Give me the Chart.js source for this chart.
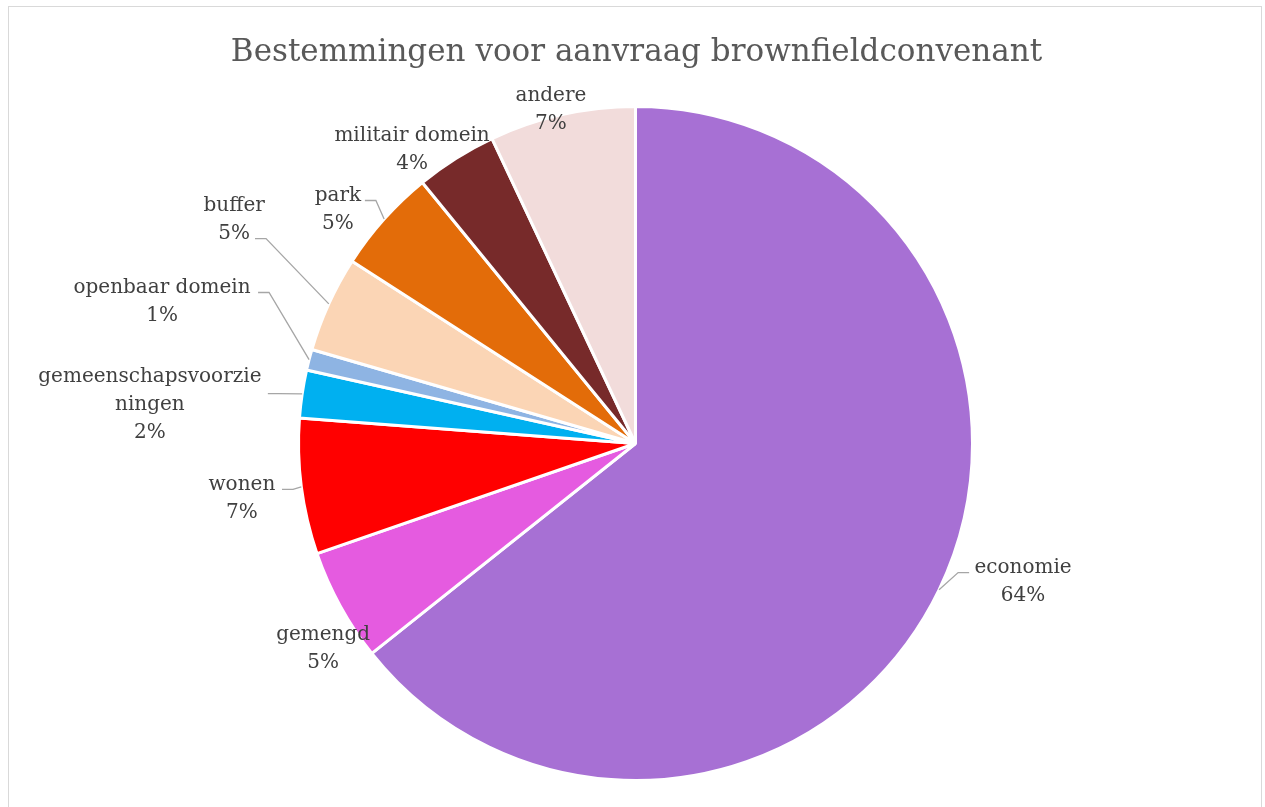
<!DOCTYPE html>
<html>
<head>
<meta charset="utf-8">
<script src="https://cdn.jsdelivr.net/npm/chart.js@4"></script>
<style>
  html, body { margin: 0; padding: 0; background: #ffffff; overflow: hidden; }
  #wrap { width: 1265px; height: 807px; position: relative; }
  canvas { display: block; }
</style>
</head>
<body>
<div id="wrap"><canvas id="chart" width="1265" height="807"></canvas></div>
<script>
// Destinations of brownfield covenant applications, share in percent
const categories = [
  'economie',
  'gemengd',
  'wonen',
  'gemeenschapsvoorzieningen',
  'openbaar domein',
  'buffer',
  'park',
  'militair domein',
  'andere'
];
const shares = [64.3, 5.4, 6.5, 2.3, 1.0, 4.6, 5.0, 3.9, 7.0];
const sliceColors = [
  '#A770D4', '#E55BE0', '#FF0000', '#00B0F0', '#8EB4E3',
  '#FBD5B5', '#E36C09', '#772A2A', '#F2DCDB'
];
const chartTitle = 'Bestemmingen voor aanvraag brownfieldconvenant';

// Callout layout, in radii from the pie centre:
// c = centre of the text block, l = where the leader line meets the text (if any)
const labelPlacement = [
  { cx:  1.150, cy:  0.404, lx:  0.990, ly:  0.383 },
  { cx: -0.927, cy:  0.605 },
  { cx: -1.168, cy:  0.160, lx: -1.049, ly:  0.136 },
  { cx: -1.441, cy: -0.119, lx: -1.091, ly: -0.148 },
  { cx: -1.405, cy: -0.427, lx: -1.120, ly: -0.448 },
  { cx: -1.191, cy: -0.668, lx: -1.129, ly: -0.608 },
  { cx: -0.883, cy: -0.700, lx: -0.803, ly: -0.721 },
  { cx: -0.663, cy: -0.878 },
  { cx: -0.251, cy: -0.997 }
];

const LABEL_FONT = '20px "DejaVu Serif"';
const TITLE_FONT = '31px "DejaVu Serif"';
const LINE_H = 28;
const WRAP_W = 230;

// Break a label into lines no wider than maxW (words first, then characters)
function wrapText(ctx, text, maxW) {
  const words = text.split(' ');
  const lines = [];
  let cur = '';
  for (const w of words) {
    const trial = cur ? cur + ' ' + w : w;
    if (ctx.measureText(trial).width <= maxW) { cur = trial; continue; }
    if (cur) { lines.push(cur); cur = ''; }
    let piece = '';
    for (const ch of w) {
      if (ctx.measureText(piece + ch).width > maxW && piece) { lines.push(piece); piece = ch; }
      else piece += ch;
    }
    cur = piece;
  }
  if (cur) lines.push(cur);
  return lines;
}

const calloutPlugin = {
  id: 'callouts',
  beforeDraw(chart) {
    const ctx = chart.ctx;
    ctx.save();
    ctx.fillStyle = '#ffffff';
    ctx.fillRect(0, 0, chart.width, chart.height);
    ctx.strokeStyle = '#D9D9D9';
    ctx.lineWidth = 1;
    ctx.strokeRect(8.5, 6.5, 1253, 820);
    ctx.restore();
  },
  afterDraw(chart) {
    const ctx = chart.ctx;
    ctx.save();
    // title
    ctx.font = TITLE_FONT;
    ctx.fillStyle = '#595959';
    ctx.textAlign = 'center';
    ctx.textBaseline = 'alphabetic';
    ctx.fillText(chartTitle, 636.5, 61);

    const meta = chart.getDatasetMeta(0);
    ctx.font = LABEL_FONT;
    meta.data.forEach((arc, i) => {
      const p = arc.getProps(['x', 'y', 'startAngle', 'endAngle', 'outerRadius'], true);
      const r = p.outerRadius;
      const place = labelPlacement[i];
      const mid = (p.startAngle + p.endAngle) / 2;

      // leader line: from the slice rim at its mid angle to the label
      if (place.lx !== undefined) {
        const ax = p.x + Math.cos(mid) * r;
        const ay = p.y + Math.sin(mid) * r;
        const ex = p.x + place.lx * r;
        const ey = p.y + place.ly * r;
        const kx = ex + (place.lx < 0 ? 11 : -11);
        ctx.beginPath();
        ctx.moveTo(ex, ey);
        ctx.lineTo(kx, ey);
        ctx.lineTo(ax, ay);
        ctx.strokeStyle = '#A6A6A6';
        ctx.lineWidth = 1.3;
        ctx.stroke();
      }

      // label text: category name then rounded share
      const lines = wrapText(ctx, categories[i], WRAP_W);
      lines.push(Math.round(shares[i]) + '%');
      const cx = p.x + place.cx * r;
      const cy = p.y + place.cy * r;
      const top = cy - (lines.length - 1) * LINE_H / 2;
      ctx.fillStyle = '#404040';
      ctx.textAlign = 'center';
      ctx.textBaseline = 'alphabetic';
      lines.forEach((ln, k) => ctx.fillText(ln, cx, top + k * LINE_H + 7));
    });
    ctx.restore();
  }
};

new Chart(document.getElementById('chart'), {
  type: 'pie',
  data: {
    labels: categories,
    datasets: [{
      data: shares,
      backgroundColor: sliceColors,
      borderColor: '#ffffff',
      borderWidth: 3,
      hoverOffset: 0
    }]
  },
  options: {
    responsive: false,
    devicePixelRatio: 1,
    animation: false,
    events: [],
    layout: { padding: { top: 105, bottom: 25, left: 297, right: 291 } },
    plugins: {
      legend: { display: false },
      tooltip: { enabled: false },
      title: { display: false }
    }
  },
  plugins: [calloutPlugin]
});
</script>
</body>
</html>
